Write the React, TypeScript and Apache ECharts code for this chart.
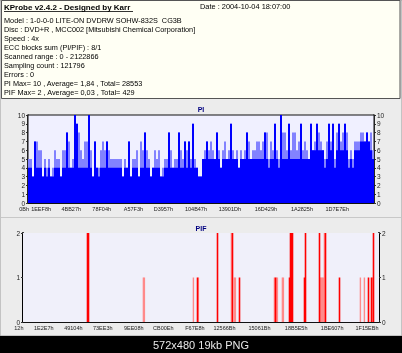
import React, { useEffect, useRef } from "react";
import * as echarts from "echarts";

// ---------- header texts ----------
const headerTitle = "KProbe v2.4.2 - Designed by Karr";
const headerDate = "Date : 2004-10-04 18:07:00";
const headerLines = [
  "Model : 1-0-0-0 LITE-ON DVDRW SOHW-832S  CG3B",
  "Disc : DVD+R , MCC002 [Mitsubishi Chemical Corporation]",
  "Speed : 4x",
  "ECC blocks sum (PI/PIF) : 8/1",
  "Scanned range : 0 - 2122866",
  "Sampling count : 121796",
  "Errors : 0",
  "PI Max= 10 , Average= 1,84 , Total= 28553",
  "PIF Max= 2 , Average= 0,03 , Total= 429",
];
const caption = "572x480 19kb PNG";

// ---------- PI data (one value per sample column) ----------
const piBase = [
  4, 4, 3, 7, 4, 4, 4, 3, 4, 3, 4, 3, 3, 4, 4, 4, 3, 4, 4, 8,
  4, 4, 4, 10, 9, 4, 4, 4, 4, 4, 10, 4, 3, 7, 4, 3, 4, 4, 4, 7,
  4, 4, 4, 4, 4, 4, 4, 3, 4, 4, 7, 3, 4, 4, 4, 3, 4, 4, 8, 4,
  4, 3, 4, 4, 4, 4, 3, 3, 4, 4, 8, 4, 4, 4, 4, 8, 4, 4, 7, 4,
  7, 4, 9, 4, 4, 3, 3, 5, 5, 7, 5, 5, 5, 5, 8, 5, 4, 5, 5, 5,
  5, 9, 5, 5, 5, 4, 5, 5, 5, 8, 5, 5, 5, 5, 5, 5, 5, 5, 8, 5,
  4, 5, 5, 9, 5, 4, 10, 5, 5, 5, 9, 5, 5, 5, 5, 5, 9, 5, 5, 5,
  5, 9, 6, 6, 9, 6, 6, 6, 4, 5, 9, 6, 9, 4, 6, 9, 6, 6, 9, 6,
  4, 5, 4, 6, 6, 6, 7, 7, 7, 8, 7, 6, 5,
];
const piPeak = [
  5, 5, 3, 7, 7, 6, 6, 3, 5, 4, 5, 3, 4, 6, 5, 5, 3, 6, 6, 8,
  7, 4, 5, 10, 9, 8, 6, 5, 7, 7, 10, 6, 3, 7, 4, 4, 6, 7, 6, 7,
  6, 5, 5, 5, 5, 5, 5, 3, 5, 4, 7, 3, 5, 5, 6, 3, 7, 6, 8, 6,
  5, 3, 4, 6, 5, 6, 3, 4, 5, 5, 8, 6, 4, 5, 5, 8, 6, 5, 7, 6,
  7, 5, 9, 5, 4, 3, 3, 5, 6, 7, 6, 7, 6, 5, 8, 6, 4, 6, 7, 5,
  6, 9, 6, 5, 6, 4, 6, 5, 6, 8, 7, 5, 6, 6, 7, 7, 6, 7, 8, 8,
  5, 7, 6, 9, 6, 5, 10, 8, 8, 6, 9, 6, 8, 8, 6, 7, 9, 6, 7, 6,
  5, 9, 6, 7, 9, 8, 7, 6, 5, 7, 9, 7, 9, 5, 8, 9, 7, 8, 9, 8,
  5, 6, 5, 7, 7, 7, 8, 8, 7, 8, 7, 8, 6,
];
const piTickLabels = ["0Bh", "1EEF8h", "4BB27h", "78F04h", "A57F3h", "D3957h", "104B47h", "13901Dh", "16D429h", "1A2825h", "1D7E7Eh"];
const piTickIndex = [0, 11, 26, 41, 57, 72, 89, 106, 124, 142, 160];

// ---------- PIF data: [sample column, value] ----------
const pifSamples = 356;
const pifStrong = [
  [64, 2], [65, 2], [174, 1], [194, 2], [209, 2], [216, 1], [252, 1], [266, 1],
  [267, 2], [268, 2], [269, 2], [281, 1], [282, 2], [296, 2], [302, 2], [316, 1],
  [345, 1], [348, 1], [350, 2],
];
const pifLight = [
  [120, 1], [121, 1], [170, 1], [175, 1], [208, 2], [211, 1], [212, 1],
  [251, 1], [253, 1], [254, 1], [259, 1], [260, 1], [297, 1], [298, 1],
  [299, 1], [300, 1], [301, 2], [337, 1], [341, 1], [349, 1],
];
const pifTickLabels = ["12h", "1E2E7h", "49104h", "73EE3h", "9EE08h", "CB00Eh", "F67E8h", "12566Bh", "15061Bh", "18B5E5h", "1BE607h", "1F15EBh"];
const pifTickIndex = [0, 30, 59, 89, 120, 150, 181, 212, 247, 284, 320, 355];

export default function App() {
  const ref = useRef<HTMLDivElement>(null);
  useEffect(() => {
    if (!ref.current) return;
    const chart = echarts.init(ref.current, null, { renderer: "svg" });
    const piCats = piBase.map((_, i) => String(i));
    const pifCats = Array.from({ length: pifSamples }, (_, i) => String(i));
    const fillPif = (pairs: number[][]) => {
      const arr: (number | null)[] = pifCats.map(() => null);
      pairs.forEach(([i, v]) => (arr[i] = v));
      return arr;
    };
    const labelFont = "Liberation Sans";
    const yLabel = { fontSize: 6.5, color: "#222", fontFamily: labelFont, margin: 3 };
    const xLabelCommon = { fontSize: 5.5, color: "#222", fontFamily: labelFont, align: "right" as const, margin: 3 };

    const headerGraphics: any[] = [
      { type: "rect", shape: { x: 0, y: 0, width: 402, height: 336 }, style: { fill: "#ececec", stroke: "#9a9a9a", lineWidth: 1 } },
      { type: "rect", shape: { x: 1.5, y: 0.5, width: 398.5, height: 98 }, style: { fill: "#fffff4", stroke: "#555", lineWidth: 1 } },
      { type: "text", x: 4, y: 3, style: { text: headerTitle, fontSize: 8, fontWeight: "bold", fontFamily: labelFont, fill: "#000" } },
      { type: "line", shape: { x1: 4, y1: 11.5, x2: 133, y2: 11.5 }, style: { stroke: "#000", lineWidth: 0.8 } },
      { type: "text", x: 200, y: 3, style: { text: headerDate, fontSize: 7.4, fontFamily: labelFont, fill: "#000" } },
      ...headerLines.map((t, i) => ({
        type: "text", x: 4, y: 17 + i * 9, style: { text: t, fontSize: 7.3, fontFamily: labelFont, fill: "#000" },
      })),
      { type: "line", shape: { x1: 1, y1: 217.5, x2: 401, y2: 217.5 }, style: { stroke: "#c8c8c8", lineWidth: 1 } },
      { type: "rect", shape: { x: 0, y: 336, width: 402, height: 17 }, style: { fill: "#000" } },
      { type: "text", x: 201, y: 345, style: { text: caption, fontSize: 11, fontFamily: labelFont, fill: "#e8e8e8", align: "center", verticalAlign: "middle" } },
      { type: "text", x: 201, y: 109, style: { text: "PI", fontSize: 7, fontWeight: "bold", fontFamily: labelFont, fill: "#000080", align: "center", verticalAlign: "middle" } },
      { type: "text", x: 201, y: 228, style: { text: "PIF", fontSize: 7, fontWeight: "bold", fontFamily: labelFont, fill: "#000080", align: "center", verticalAlign: "middle" } },
    ];

    const barStyle = (c: string) => ({ color: c, borderColor: c, borderWidth: 0 });

    chart.setOption({
      animation: false,
      graphic: headerGraphics.map((g) => ({ ...g, z: -10, silent: true })),
      grid: [
        { left: 28, top: 115, width: 346, height: 88, show: true, backgroundColor: "#f0f0ff", borderColor: "#111", borderWidth: 1, z: 1 },
        { left: 23, top: 233, width: 356, height: 89, show: true, backgroundColor: "#f0f0fa", borderWidth: 0, z: 1 },
      ],
      xAxis: [
        {
          type: "category", gridIndex: 0, data: piCats, boundaryGap: true,
          axisLine: { show: true, lineStyle: { color: "#111", width: 1 } },
          axisTick: { show: false },
          axisLabel: { ...xLabelCommon, interval: (i: number) => piTickIndex.includes(i), formatter: (_v: string, i: number) => piTickLabels[piTickIndex.indexOf(i)] ?? "" },
        },
        {
          type: "category", gridIndex: 1, data: pifCats, boundaryGap: true,
          axisLine: { show: true, lineStyle: { color: "#111", width: 1 } },
          axisTick: { show: true, interval: 3, length: -2, lineStyle: { color: "#333", width: 0.6 } },
          axisLabel: { ...xLabelCommon, interval: (i: number) => pifTickIndex.includes(i), formatter: (_v: string, i: number) => pifTickLabels[pifTickIndex.indexOf(i)] ?? "" },
        },
      ],
      yAxis: [
        { type: "value", gridIndex: 0, min: 0, max: 10, interval: 1, position: "left",
          axisLine: { show: true, lineStyle: { color: "#000", width: 1.5 } }, axisTick: { show: true, length: 2, lineStyle: { color: "#333" } },
          axisLabel: yLabel, splitLine: { show: true, lineStyle: { color: "#a8a8a8", type: [2, 2], width: 0.8 } } },
        { type: "value", gridIndex: 0, min: 0, max: 10, interval: 1, position: "right",
          axisLine: { show: true, lineStyle: { color: "#000", width: 1.5 } }, axisTick: { show: true, length: 2, lineStyle: { color: "#333" } },
          axisLabel: yLabel, splitLine: { show: false } },
        { type: "value", gridIndex: 1, min: 0, max: 2, interval: 1, position: "left",
          axisLine: { show: true, lineStyle: { color: "#000", width: 2 } }, axisTick: { show: true, length: 2, lineStyle: { color: "#333" } },
          axisLabel: yLabel, splitLine: { show: true, lineStyle: { color: "#999", type: [2, 2], width: 0.8 } } },
        { type: "value", gridIndex: 1, min: 0, max: 2, interval: 1, position: "right",
          axisLine: { show: true, lineStyle: { color: "#000", width: 2 } }, axisTick: { show: true, length: 2, lineStyle: { color: "#333" } },
          axisLabel: yLabel, splitLine: { show: false } },
      ],
      series: [
        { name: "PI max", type: "bar", xAxisIndex: 0, yAxisIndex: 0, data: piPeak, barCategoryGap: "0%", barGap: "-100%", itemStyle: barStyle("#8282ff"), z: 2 },
        { name: "PI", type: "bar", xAxisIndex: 0, yAxisIndex: 0, data: piBase, barCategoryGap: "0%", barGap: "-100%", itemStyle: barStyle("#0000ff"), z: 3 },
        { name: "PIF light", type: "bar", xAxisIndex: 1, yAxisIndex: 2, data: fillPif(pifLight), barWidth: 1.4, barGap: "-100%", itemStyle: barStyle("#ff8a8a"), z: 2 },
        { name: "PIF", type: "bar", xAxisIndex: 1, yAxisIndex: 2, data: fillPif(pifStrong), barWidth: 1.6, barGap: "-100%", itemStyle: barStyle("#ff0000"), z: 3 },
      ],
    });
    return () => chart.dispose();
  }, []);
  return <div ref={ref} style={{ position: "fixed", left: 0, top: 0, width: 402, height: 353 }} />;
}
